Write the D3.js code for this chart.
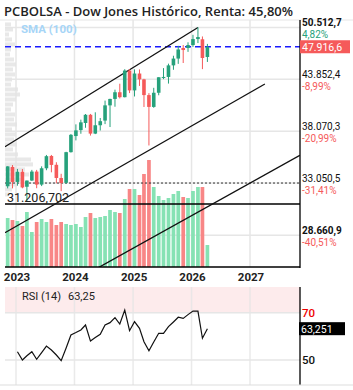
<!DOCTYPE html>
<html><head><meta charset="utf-8">
<script src="https://cdn.jsdelivr.net/npm/d3@7"></script>
<style>
html,body{margin:0;padding:0;background:#fff;}
svg{display:block;font-family:Roboto,"Noto Sans",sans-serif;}
</style></head><body>
<svg id="c" width="353" height="390"></svg>
<script>
// ---------- DATA ----------
const months = ["2022-11","2022-12","2023-01","2023-02","2023-03","2023-04","2023-05","2023-06","2023-07","2023-08","2023-09","2023-10","2023-11","2023-12","2024-01","2024-02","2024-03","2024-04","2024-05","2024-06","2024-07","2024-08","2024-09","2024-10","2024-11","2024-12","2025-01","2025-02","2025-03","2025-04","2025-05","2025-06","2025-07","2025-08","2025-09","2025-10","2025-11","2025-12","2026-01","2026-02","2026-03","2026-04"];
const openP  = [32758,34536,33148,34083,32717,33274,34098,32909,34405,35581,34734,33507,33070,35951,37566,38183,38928,39807,37816,38688,39183,40842,41563,42330,41763,44910,42544,44545,43841,42002,40669,42270,44095,44131,45545,46398,47750,47750,48140,48930,48900,46600];
const highP  = [34595,34712,34342,34335,33276,34257,34257,34588,35679,35679,34977,33893,35987,37778,38783,39283,39889,39900,40077,39461,41376,41585,42628,43325,45071,45074,45054,45044,43906,42225,42842,44095,45206,45758,46758,48040,48140,48500,49500,50512.7,49280,48290];
const lowP   = [32573,32573,32812,32577,31430,33235,32587,32777,34224,34029,33025,32327,32977,35910,37123,37800,38424,37612,37764,38136,38808,38499,40691,41622,41737,42232,41844,43063,40662,36612,40574,41981,43866,43340,45000,45730,45840,47250,47900,48400,45080,45970];
const closeP = [34590,33147,34086,32657,33274,34098,32908,34408,35560,34722,33508,33053,35951,37690,38150,38996,39807,37816,38686,39119,40843,41563,42330,41763,44910,42544,44545,43841,42002,40669,42270,44095,44131,45545,46398,47563,47490,48140,48930,49200,46470,47916.6];
const volume = [4.9,4.7,4.6,4.1,5.5,3.5,4.5,4.8,4.5,4.8,4.2,4.5,4.3,4.2,4.3,4.0,5.0,5.4,4.9,5.0,5.1,5.7,5.5,5.4,6.8,7.8,7.8,7.2,9.3,10.7,8.0,7.1,6.7,6.9,7.3,7.6,7.0,6.9,7.6,8.0,8.0,2.2];

const rsiStart = "2023-01";
const rsiValues = [53.5,50.0,51.8,53.5,50.3,53.1,55.9,54.2,52.1,49.7,55.1,60.6,61.6,62.7,64.8,58.0,59.5,60.9,64.8,65.8,67.9,65.2,71.1,62.4,66.2,63.4,57.7,53.9,57.6,61.3,61.3,64.1,66.1,68.1,67.6,69.2,70.7,70.7,59.2,63.25];

const priceLevels = [50512.7,43852.4,38070.3,33050.5,28660.9];
const priceLabels = ["50.512,7","43.852,4","38.070,3","33.050,5","28.660,9"];
const pctLabels   = ["4,82%","-8,99%","-20,99%","-31,41%","-40,51%"];
const lastPrice = 47916.6, lastPriceLabel = "47.916,6";
const supportLevel = 31206.702, supportLabel = "31.206,702";
const dottedLevel = 33050.5;
const years = [2023,2024,2025,2026,2027];
const rsiLevels = [70,50];
const rsiLast = 63.251, rsiLastLabel = "63,251";

const upperLine = [["2022-10-24",36490],["2026-02-10",50500]];
const middleLine = [["2022-10-24",28866],["2027-04-04",43290]];
const lowerLine = [["2024-01-01",25310],["2027-11-08",35640]];

const profilePrices = [50920,50230,49550,48880,48220,47560,46920,46280,45660,45040,44430,43830,43230,42650,42070,41500,40940,40390,39840,39300,38770,38240,37730,37220,36710,36220,35730,35240,34770,34300,33830,33370,32920,32480,32040];
const profileVolumes = [8,10,6,9,12,8,7,11,13,10,12,9,8,15,17,13,10,8,12,11,14,9,13,11,14,10,15,28,30,22,26,20,14,9,6];

// ---------- LAYOUT ----------
const svg = d3.select("#c");
const W = 353;
const L = 5, R = 300, T = 20, B = 267;
const rT = 287, rB = 385;
const parse = d3.timeParse("%Y-%m");
const parseD = d3.timeParse("%Y-%m-%d");
const x = d3.scaleTime().domain([new Date(2023,0,1), new Date(2027,0,1)]).range([16,250]);
const y = d3.scaleLog().domain([26290,51260]).range([267,22]);
const yVol = d3.scaleLinear().domain([0,12]).range([B, B-120]);
const yR = d3.scaleLinear().domain([39.4,80.9]).range([rB, rT]);
const xProf = d3.scaleLinear().domain([0,30]).range([3,33]);
const cx = s => x(d3.timeDay.offset(parse(s), 9));

const GREEN = "#26a17b", RED = "#f55a5a";
const VGREEN = "#86e2b4", VRED = "#f88686";
const GRID = "#e6e6e6";

// title
svg.append("text").attr("x",4).attr("y",16).attr("font-family","'Open Sans',sans-serif")
  .attr("font-size",13).attr("font-weight",600).attr("fill","#222")
  .text("PCBOLSA - Dow Jones Histórico, Renta: 45,80%");

// clip
svg.append("clipPath").attr("id","mainclip").append("rect").attr("x",L).attr("y",T).attr("width",R-L).attr("height",B-T);

// main grid
const g = svg.append("g");
g.append("line").attr("x1",0).attr("x2",W).attr("y1",T).attr("y2",T).attr("stroke",GRID).attr("stroke-width",1);
years.forEach(yr=>{
  const xx = x(new Date(yr,0,1));
  g.append("line").attr("x1",xx).attr("x2",xx).attr("y1",T).attr("y2",B).attr("stroke",GRID).attr("stroke-width",1.5);
});
priceLevels.forEach(p=>{
  g.append("line").attr("x1",L).attr("x2",R).attr("y1",y(p)).attr("y2",y(p)).attr("stroke",GRID).attr("stroke-width",1.5);
});

// volume profile
const gp = svg.append("g").attr("clip-path","url(#mainclip)");
profilePrices.forEach((p,i)=>{
  gp.append("rect").attr("x",xProf(0)).attr("y",y(p)-2).attr("width",xProf(profileVolumes[i])-xProf(0)).attr("height",4)
    .attr("fill","#e4e4e4").attr("opacity",0.85);
});

// volume bars
const gv = svg.append("g");
months.forEach((m,i)=>{
  const up = closeP[i] >= openP[i];
  gv.append("rect").attr("x",cx(m)-1.85).attr("width",3.7).attr("y",yVol(volume[i])).attr("height",B-yVol(volume[i]))
    .attr("fill", up?VGREEN:VRED);
});

// horizontal lines
const gl = svg.append("g");
gl.append("line").attr("x1",L).attr("x2",R).attr("y1",y(dottedLevel)).attr("y2",y(dottedLevel)).attr("stroke","#333").attr("stroke-width",1).attr("stroke-dasharray","2,2");
gl.append("line").attr("x1",L).attr("x2",R).attr("y1",y(supportLevel)).attr("y2",y(supportLevel)).attr("stroke","#000").attr("stroke-width",1.5);
gl.append("line").attr("x1",L).attr("x2",R).attr("y1",y(lastPrice)).attr("y2",y(lastPrice)).attr("stroke","#1a1aff").attr("stroke-width",1.3).attr("stroke-dasharray","6,4");

// channel lines
const gc = svg.append("g").attr("clip-path","url(#mainclip)");
[upperLine,middleLine,lowerLine].forEach(ln=>{
  gc.append("line").attr("x1",x(parseD(ln[0][0]))).attr("y1",y(ln[0][1])).attr("x2",x(parseD(ln[1][0]))).attr("y2",y(ln[1][1]))
    .attr("stroke","#111").attr("stroke-width",1.3);
});

// candles
const gk = svg.append("g");
months.forEach((m,i)=>{
  const up = closeP[i] >= openP[i];
  const col = up?GREEN:RED;
  const xx = cx(m);
  gk.append("line").attr("x1",xx).attr("x2",xx).attr("y1",y(highP[i])).attr("y2",y(lowP[i])).attr("stroke",col).attr("stroke-width",1);
  const y1 = y(Math.max(openP[i],closeP[i])), y2 = y(Math.min(openP[i],closeP[i]));
  gk.append("rect").attr("x",xx-1.8).attr("width",3.6).attr("y",y1).attr("height",Math.max(1,y2-y1)).attr("fill",col);
});

// annotations
svg.append("text").attr("x",21).attr("y",33).attr("font-size",11.5).attr("font-weight",700).attr("fill","#a6d5f7").text("SMA (100)");
svg.append("text").attr("x",7).attr("y",y(supportLevel)-2).attr("font-size",12.5).attr("fill","#222").text(supportLabel);

// main panel border
svg.append("line").attr("x1",L).attr("x2",R).attr("y1",B).attr("y2",B).attr("stroke","#000").attr("stroke-width",1.3);
svg.append("line").attr("x1",R).attr("x2",R).attr("y1",T).attr("y2",B+1).attr("stroke","#000").attr("stroke-width",1.3);

// right axis labels
priceLevels.forEach((p,i)=>{
  const bold = (i===0 || i===priceLevels.length-1);
  svg.append("text").attr("x",302).attr("y",y(p)-1.5).attr("font-size",10).attr("font-weight",bold?700:400).attr("fill","#111").text(priceLabels[i]);
  svg.append("text").attr("x",302).attr("y",y(p)+10.5).attr("font-size",10).attr("fill",pctLabels[i].startsWith("-")?"#f55a5a":GREEN).text(pctLabels[i]);
});
svg.append("rect").attr("x",300).attr("y",y(lastPrice)-6.5).attr("width",50).attr("height",13).attr("fill","#f55a5a");
svg.append("text").attr("x",302).attr("y",y(lastPrice)+4).attr("font-size",10.5).attr("fill","#fff").text(lastPriceLabel);

// x-axis labels
years.forEach(yr=>{
  svg.append("text").attr("x",x(new Date(yr,0,1))+1).attr("y",281).attr("text-anchor","middle")
    .attr("font-size",11.5).attr("font-weight",700).attr("fill","#222").text(yr);
});

// ---------- RSI ----------
svg.append("rect").attr("x",L).attr("y",rT).attr("width",R-L).attr("height",yR(70)-rT).attr("fill","#fdebec");
years.forEach(yr=>{
  const xx = x(new Date(yr,0,1));
  svg.append("line").attr("x1",xx).attr("x2",xx).attr("y1",rT).attr("y2",rB).attr("stroke",GRID).attr("stroke-width",1.5).attr("opacity",0.8);
});
rsiLevels.forEach(v=>{
  svg.append("line").attr("x1",L).attr("x2",R).attr("y1",yR(v)).attr("y2",yR(v)).attr("stroke",GRID).attr("stroke-width",1.5);
});
const rs = parse(rsiStart);
const rsiPts = rsiValues.map((v,i)=>[x(d3.timeDay.offset(d3.timeMonth.offset(rs,i),9)), yR(v)]);
svg.append("path").attr("d",d3.line()(rsiPts)).attr("fill","none").attr("stroke","#111").attr("stroke-width",1.2);
svg.append("line").attr("x1",R).attr("x2",R).attr("y1",rT).attr("y2",rB).attr("stroke","#000").attr("stroke-width",1.3);
svg.append("line").attr("x1",0).attr("x2",W).attr("y1",rB).attr("y2",rB).attr("stroke","#ddd").attr("stroke-width",1);
svg.append("text").attr("x",22).attr("y",300).attr("font-size",11).attr("fill","#222").text("RSI (14)");
svg.append("text").attr("x",68).attr("y",300).attr("font-size",11).attr("fill","#222").text("63,25");
svg.append("text").attr("x",302).attr("y",yR(70)+4).attr("font-size",11.5).attr("font-weight",500).attr("fill","#e00").text("70");
svg.append("text").attr("x",302).attr("y",yR(50)+4).attr("font-size",11.5).attr("font-weight",500).attr("fill","#111").text("50");
svg.append("rect").attr("x",299).attr("y",yR(rsiLast)-6.5).attr("width",46).attr("height",13).attr("fill","#000");
svg.append("text").attr("x",301).attr("y",yR(rsiLast)+4).attr("font-size",10.5).attr("fill","#fff").text(rsiLastLabel);
</script>
</body></html>
